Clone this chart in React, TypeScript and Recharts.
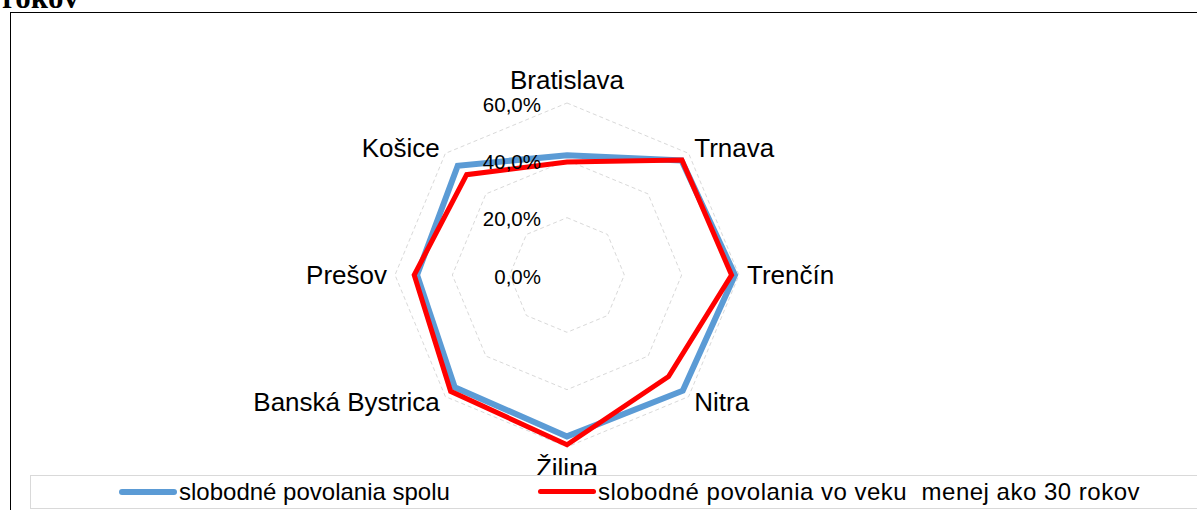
import React from "react";
import {
  RadarChart,
  Radar,
  PolarGrid,
  PolarAngleAxis,
  PolarRadiusAxis,
  Legend,
} from "recharts";

// regions, clockwise from the top
const regions = [
  "Bratislava",
  "Trnava",
  "Trenčín",
  "Nitra",
  "Žilina",
  "Banská Bystrica",
  "Prešov",
  "Košice",
];

// share in %
const spolu = [41.8, 56.5, 58.6, 57.1, 56.3, 55.4, 52.3, 53.9];
const do30 = [39.4, 56.7, 57.4, 50.1, 59.2, 57.4, 53.3, 49.5];

const radiusTicks = [0, 20, 40, 60];

const seriesNames = [
  "slobodné povolania spolu",
  "slobodné povolania vo veku  menej ako 30 rokov",
];

const data = regions.map((name, i) => ({
  name,
  spolu: spolu[i],
  do30: do30[i],
}));

const W = 1197;
const H = 510;
const CX = 567;
const CY = 275;
const FONT = "'Liberation Sans', Arial, sans-serif";

const fmtPct = (v: number) => `${v.toFixed(1).replace(".", ",")}%`;

const AngleTick = (props: any) => {
  const { x, y, payload, textAnchor } = props;
  let dy = 0;
  let baseline = "central";
  if (Math.abs(x - CX) < 1) {
    baseline = "auto";
    dy = y < CY ? -6 : 22;
  }
  return (
    <text
      x={x}
      y={y + dy}
      textAnchor={textAnchor}
      dominantBaseline={baseline}
      fontSize={26}
      fontFamily={FONT}
      fill="#000"
    >
      {payload.value}
    </text>
  );
};

const RadiusTick = (props: any) => {
  const { x, y, payload } = props;
  return (
    <text
      x={x - 26}
      y={y + 1}
      textAnchor="end"
      dominantBaseline="central"
      fontSize={20.5}
      fontFamily={FONT}
      fill="#000"
    >
      {fmtPct(payload.value)}
    </text>
  );
};

const LegendBox = () => (
  <div
    style={{
      boxSizing: "border-box",
      width: 1180,
      height: 34,
      border: "1.5px solid #d9d9d9",
      background: "#fff",
      position: "relative",
      fontFamily: FONT,
      fontSize: 24,
      color: "#000",
    }}
  >
    {[
      { left: 88, color: "#5b9bd5", width: 6, len: 58, gap: 2, ls: 0, name: seriesNames[0] },
      { left: 507, color: "#ff0000", width: 5, len: 58, gap: 2, ls: 0.5, name: seriesNames[1] },
    ].map((it) => (
      <div
        key={it.name}
        style={{
          position: "absolute",
          left: it.left,
          top: 0,
          height: 31,
          display: "flex",
          alignItems: "center",
          whiteSpace: "pre",
        }}
      >
        <span
          style={{
            display: "inline-block",
            width: it.len,
            height: it.width,
            borderRadius: 3,
            background: it.color,
            marginRight: it.gap,
          }}
        />
        <span style={{ letterSpacing: it.ls }}>{it.name}</span>
      </div>
    ))}
  </div>
);

export default function App() {
  return (
    <div
      style={{
        position: "fixed",
        left: 0,
        top: 0,
        width: W,
        height: H,
        background: "#fff",
        overflow: "hidden",
      }}
    >
      <svg
        width={200}
        height={20}
        style={{ position: "absolute", left: 0, top: 0 }}
      >
        <text
          x={2}
          y={8}
          fontFamily="'Liberation Serif', 'Times New Roman', serif"
          fontWeight="bold"
          fontSize={31}
          fill="#000"
        >
          rokov
        </text>
      </svg>
      <div
        style={{
          position: "absolute",
          left: 10,
          top: 12,
          width: W,
          height: H,
          border: "1.5px solid #000",
        }}
      />
      <div style={{ position: "absolute", left: 0, top: 0 }}>
        <RadarChart
          width={W}
          height={H}
          data={data}
          cx={CX}
          cy={CY}
          outerRadius={172}
          startAngle={90}
          endAngle={-270}
        >
          <PolarGrid
            gridType="polygon"
            radialLines={false}
            stroke="#d9d9d9"
            strokeDasharray="4 3"
          />
          <PolarAngleAxis
            dataKey="name"
            tick={<AngleTick />}
            tickLine={false}
            axisLine={false}
            tickSize={8}
          />
          <PolarRadiusAxis
            angle={90}
            domain={[0, 60]}
            ticks={radiusTicks}
            tick={<RadiusTick />}
            axisLine={false}
            tickLine={false}
          />
          <Radar
            name={seriesNames[0]}
            dataKey="spolu"
            stroke="#5b9bd5"
            strokeWidth={6}
            fill="none"
            fillOpacity={0}
            dot={false}
            isAnimationActive={false}
          />
          <Radar
            name={seriesNames[1]}
            dataKey="do30"
            stroke="#ff0000"
            strokeWidth={5}
            fill="none"
            fillOpacity={0}
            dot={false}
            isAnimationActive={false}
          />
          <Legend
            content={<LegendBox />}
            wrapperStyle={{
              position: "absolute",
              left: 30,
              top: 475,
              width: 1180,
              height: 34,
            }}
          />
        </RadarChart>
      </div>
    </div>
  );
}
